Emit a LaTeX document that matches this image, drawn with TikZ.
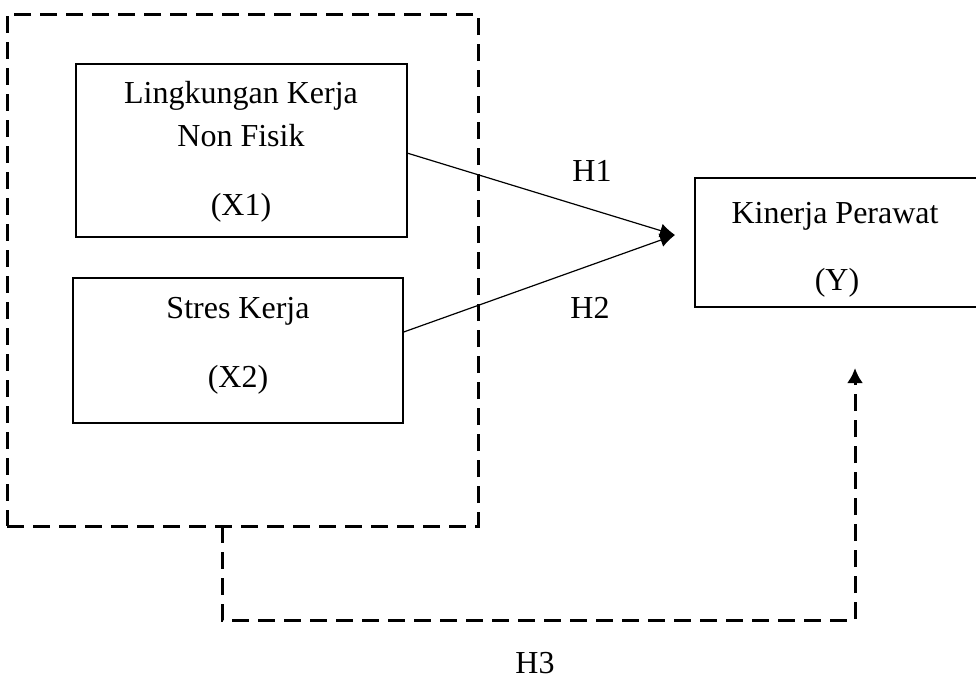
\documentclass[tikz,border=0pt]{standalone}
\usepackage{fontspec}
\setmainfont{Liberation Serif}
\usetikzlibrary{arrows.meta,calc}
\begin{document}
\begin{tikzpicture}[x=1pt,y=-1pt,
  box/.style={draw,line width=2pt,inner sep=0pt,outer sep=0pt,rectangle},
  dashbox/.style={draw,line width=3pt,dash pattern=on 17pt off 9pt,inner sep=0pt,outer sep=0pt,rectangle},
  dashline/.style={line width=3pt,dash pattern=on 17pt off 9pt},
  txt/.style={anchor=base,inner sep=0pt,font=\fontsize{32}{38}\selectfont},
  conn/.style={line width=1.2pt,-{Latex[length=15pt,width=14pt]}},
  fbtip/.style={-{Latex[length=15pt,width=16pt]}},
]
\useasboundingbox (0,0) rectangle (976,681);
\clip (0,0) rectangle (976,681);
\fill[white] (0,0) rectangle (976,681);
% outer dashed group box
\node[dashbox, minimum width=471pt, minimum height=512pt] (outer) at (242.5,270) {};
% variable boxes
\node[box, minimum width=331pt, minimum height=173pt] (x1) at (241.5,150) {};
\node[box, minimum width=330pt, minimum height=144.5pt] (x2) at (238,350.25) {};
\node[box, minimum width=300pt, minimum height=129pt] (y) at (845,242.5) {};
% texts
\node[txt] (t1a) at (241,103.3) {Lingkungan Kerja};
\node[txt] (t1b) at (241,146.3) {Non Fisik};
\node[txt] (t1c) at (241,215) {(X1)};
\node[txt] (t2a) at (238,318.5) {Stres Kerja};
\node[txt] (t2b) at (238,387.4) {(X2)};
\node[txt] (tya) at (835,223) {Kinerja Perawat};
\node[txt] (tyb) at (837,290) {(Y)};
\node[txt] (h1) at (592,181) {H1};
\node[txt] (h2) at (590,318) {H2};
\node[txt] (h3) at (535,673) {H3};
% converging arrows
\coordinate (tip) at (675,235);
\draw[conn] ([yshift=-3pt]x1.east) -- (tip);
\draw[conn] ([yshift=18pt]x2.east) -- (tip);
% feedback dashed path
\coordinate (fb0) at (222,526);
\coordinate (fb1) at (222,620);
\coordinate (fb2) at (855,620);
\coordinate (fb3) at (855,368);
\draw[dashline,fbtip] (fb0) -- (fb1) -- (fb2) -- (fb3);
\end{tikzpicture}
\end{document}
